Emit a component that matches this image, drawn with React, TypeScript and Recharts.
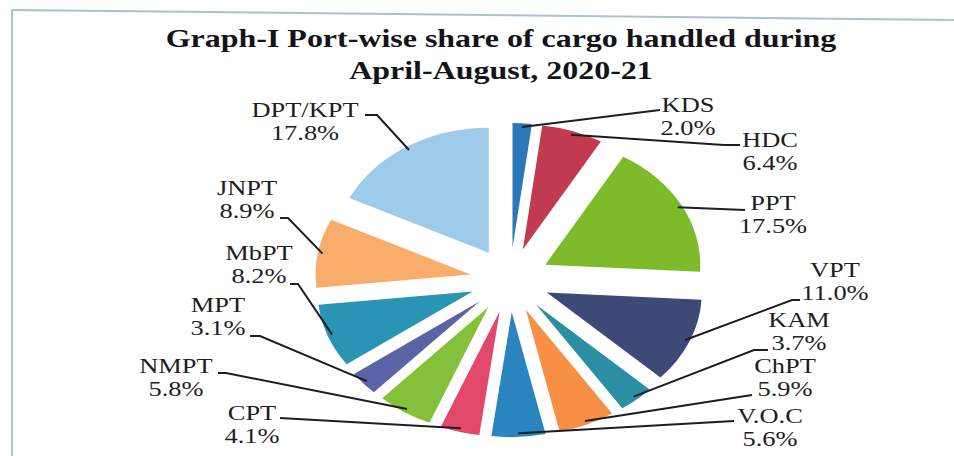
import { PieChart, Pie, Cell } from "recharts";

const ports = ["KDS", "HDC", "PPT", "VPT", "KAM", "ChPT", "V.O.C", "CPT", "NMPT", "MPT", "MbPT", "JNPT", "DPT/KPT"];
const shares = [2.0, 6.4, 17.5, 11.0, 3.7, 5.9, 5.6, 4.1, 5.8, 3.1, 8.2, 8.9, 17.8];
const colors = [
	"#2a78b8", "#c23a50", "#7dbb2a", "#3d4a78", "#2a8fa2", "#f78f45", "#2a84c0",
	"#e2486a", "#84c13a", "#5a64a4", "#2a94b4", "#f9ad6a", "#9fcbea",
];

const data = ports.map((name, i) => ({ name, value: shares[i] }));

// the scanned original is stretched sideways, so the pie is an ellipse and text is wide
const ASPECT = 0.806;
const EXPLODE = 0.258;
const TEXT_SX = 1.23;
const LINE_GAP = 23;

// where each label sits: text centre, first baseline, leader end, flat run at the text
const labelLayout = [
	{ tx: 688, ty: 112, ex: 660, ey: 110, run: 0 },
	{ tx: 770, ty: 147, ex: 740, ey: 145, run: 16 },
	{ tx: 773, ty: 210, ex: 745, ey: 210, run: 0 },
	{ tx: 835, ty: 277, ex: 800, ey: 300, run: 8 },
	{ tx: 799, ty: 327, ex: 768, ey: 350, run: 14 },
	{ tx: 785, ty: 373, ex: 752, ey: 395, run: 0 },
	{ tx: 770, ty: 423, ex: 734, ey: 421, run: 0 },
	{ tx: 252, ty: 420, ex: 280, ey: 418, run: 0 },
	{ tx: 176, ty: 373, ex: 218, ey: 373, run: 8 },
	{ tx: 218, ty: 312, ex: 250, ey: 336, run: 10 },
	{ tx: 259, ty: 260, ex: 290, ey: 284, run: 8 },
	{ tx: 247, ty: 195, ex: 280, ey: 218, run: 8 },
	{ tx: 305, ty: 117, ex: 365, ey: 115, run: 12 },
];

const pt = (cx: number, cy: number, rx: number, ry: number, deg: number) => {
	const r = (deg * Math.PI) / 180;
	return [cx + rx * Math.cos(r), cy - ry * Math.sin(r)];
};

const sliceOrigin = (p: any) => {
	const rx = p.outerRadius;
	const ry = p.outerRadius * ASPECT;
	const [ox, oy] = pt(p.cx, p.cy, rx * EXPLODE, ry * EXPLODE, p.midAngle);
	return { ox, oy, rx, ry };
};

const renderSlice = (p: any) => {
	const { ox, oy, rx, ry } = sliceOrigin(p);
	const [x0, y0] = pt(ox, oy, rx, ry, p.startAngle);
	const [x1, y1] = pt(ox, oy, rx, ry, p.endAngle);
	const large = Math.abs(p.startAngle - p.endAngle) > 180 ? 1 : 0;
	const sweep = p.startAngle > p.endAngle ? 1 : 0;
	return (
		<path
			d={`M${ox},${oy} L${x0},${y0} A${rx},${ry} 0 ${large} ${sweep} ${x1},${y1} Z`}
			fill={p.fill}
			stroke="none"
		/>
	);
};

const renderLabel = (p: any) => {
	const { ox, oy, rx, ry } = sliceOrigin(p);
	const [sx, sy] = pt(ox, oy, rx * 0.97, ry * 0.97, p.midAngle);
	const l = labelLayout[p.index];
	const right = l.ex > p.cx;
	const kx = right ? l.ex - l.run : l.ex + l.run;
	return (
		<g>
			<polyline
				points={`${sx},${sy} ${kx},${l.ey} ${l.ex},${l.ey}`}
				fill="none"
				stroke="#1d1d22"
				strokeWidth={2}
			/>
			<text
				transform={`translate(${l.tx},${l.ty}) scale(${TEXT_SX},1)`}
				textAnchor="middle"
				fontFamily="'Liberation Serif', serif"
				fontSize={21.5}
				fill="#1d1d24"
			>
				<tspan x={0} y={0}>{ports[p.index]}</tspan>
				<tspan x={0} y={LINE_GAP}>{shares[p.index].toFixed(1)}%</tspan>
			</text>
		</g>
	);
};

const App = () => {
	return (
		<div style={{ position: "absolute", left: 0, top: 0, width: 954, height: 456, background: "#fff" }}>
			<svg width={954} height={456} style={{ position: "absolute", left: 0, top: 0 }}>
				<line x1={12} y1={10} x2={954} y2={20} stroke="#a9c3d2" strokeWidth={2} />
				<line x1={12} y1={10} x2={12} y2={456} stroke="#a9c3d2" strokeWidth={2} />
				<text
					fontFamily="'Liberation Serif', serif"
					fontWeight="bold"
					fontSize={26}
					fill="#141418"
					textAnchor="middle"
					transform={`translate(501,47) scale(${TEXT_SX},1)`}
				>
					<tspan x={0} y={0}>Graph-I Port-wise share of cargo handled during</tspan>
					<tspan x={0} y={32}>April-August, 2020-21</tspan>
				</text>
			</svg>
			<div style={{ position: "absolute", left: 0, top: 0 }}>
				<PieChart width={954} height={456}>
					<Pie
						data={data}
						dataKey="value"
						nameKey="name"
						cx={505}
						cy={275}
						outerRadius={155}
						startAngle={90}
						endAngle={-270}
						stroke="none"
						isAnimationActive={false}
						shape={renderSlice}
						label={renderLabel}
						labelLine={false}
					>
						{data.map((d, i) => (
							<Cell key={d.name} fill={colors[i]} />
						))}
					</Pie>
				</PieChart>
			</div>
		</div>
	);
};

export default App;
